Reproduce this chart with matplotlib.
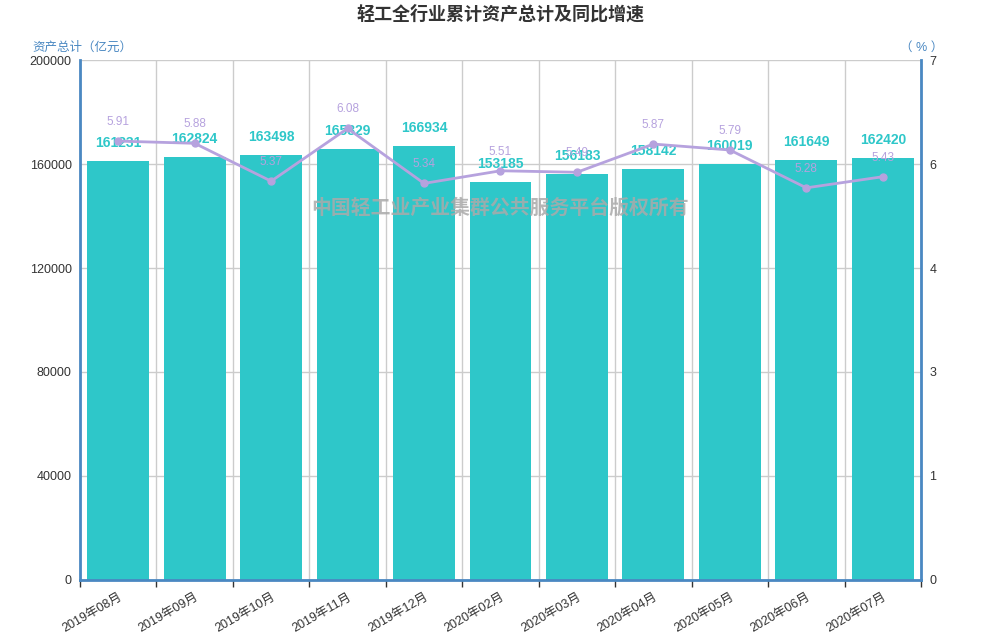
import matplotlib
matplotlib.use("Agg")
import matplotlib.pyplot as plt
import numpy as np

plt.rcParams['font.family'] = ['Liberation Sans', 'Noto Sans CJK SC', 'DejaVu Sans']

categories = ["2019年08月", "2019年09月", "2019年10月", "2019年11月", "2019年12月",
              "2020年02月", "2020年03月", "2020年04月", "2020年05月", "2020年06月", "2020年07月"]
assets = [161231, 162824, 163498, 165829, 166934, 153185, 156183, 158142, 160019, 161649, 162420]
growth = [5.91, 5.88, 5.37, 6.08, 5.34, 5.51, 5.49, 5.87, 5.79, 5.28, 5.43]
left_ticks = [0, 40000, 80000, 120000, 160000, 200000]
right_ticks = [0, 1.4, 2.8, 4.2, 5.6, 7]
right_tick_labels = ["0", "1", "3", "4", "6", "7"]

bar_color = '#2ec7c9'
line_color = '#b6a2de'
axis_color = '#4a88c2'
grid_color = '#cccccc'

fig = plt.figure(figsize=(10, 6.4), dpi=100)
ax = fig.add_axes([0.08, 0.094, 0.841, 0.812])
x = np.arange(len(categories))

ax.bar(x, assets, width=0.81, color=bar_color, zorder=2)
ax.set_xlim(-0.5, len(categories) - 0.5)
ax.set_ylim(0, 200000)
ax.set_yticks(left_ticks)
ax.set_yticklabels([str(t) for t in left_ticks])
ax.tick_params(axis='y', length=0, pad=6, labelsize=9, labelcolor='#333333')

ax.set_xticks(x)
ax.set_xticklabels(categories, rotation=30, ha='right', rotation_mode='anchor')
ax.tick_params(axis='x', which='major', length=0, pad=8, labelsize=9, labelcolor='#333333')
ax.set_xticks(np.arange(-0.5, len(categories), 1), minor=True)
ax.tick_params(axis='x', which='minor', length=5, width=1, color='#333333', direction='out')

ax.grid(axis='y', color=grid_color, linewidth=1, zorder=0)
ax.grid(axis='x', which='minor', color=grid_color, linewidth=1, zorder=0)
ax.set_axisbelow(True)

for s in ['left', 'bottom']:
    ax.spines[s].set_color(axis_color)
    ax.spines[s].set_linewidth(2)
ax.spines['top'].set_visible(False)
ax.spines['right'].set_visible(False)

for xi, v in zip(x, assets):
    ax.annotate(str(v), (xi, v), xytext=(0, 8), textcoords='offset points',
                ha='center', va='bottom', fontsize=10, fontweight='bold',
                color=bar_color, zorder=5)

ax2 = ax.twinx()
ax2.set_ylim(0, 7)
ax2.plot(x, growth, color=line_color, linewidth=2, marker='o', markersize=5, zorder=4)
ax2.set_yticks(right_ticks)
ax2.set_yticklabels(right_tick_labels)
ax2.tick_params(axis='y', length=0, pad=6, labelsize=9, labelcolor='#333333')
ax2.spines['right'].set_color(axis_color)
ax2.spines['right'].set_linewidth(2)
for s in ['left', 'top', 'bottom']:
    ax2.spines[s].set_visible(False)

for xi, v in zip(x, growth):
    ax2.annotate(f"{v:.2f}", (xi, v), xytext=(0, 9.5), textcoords='offset points',
                 ha='center', va='bottom', fontsize=8.5, color=line_color, zorder=6)

fig.text(0.5, 0.977, "轻工全行业累计资产总计及同比增速", ha='center', va='center',
         fontsize=13, fontweight='bold', color='#333333')
fig.text(0.032, 0.925, "资产总计（亿元）", ha='left', va='center', fontsize=9, color=axis_color)
fig.text(0.922, 0.925, "（ % ）", ha='center', va='center', fontsize=9, color=axis_color)
fig.text(0.5, 0.675, "中国轻工业产业集群公共服务平台版权所有", ha='center', va='center',
         fontsize=14.3, fontweight='bold', color='#aaaaaa', alpha=0.85, zorder=10)

fig.savefig("out.png", dpi=100)
